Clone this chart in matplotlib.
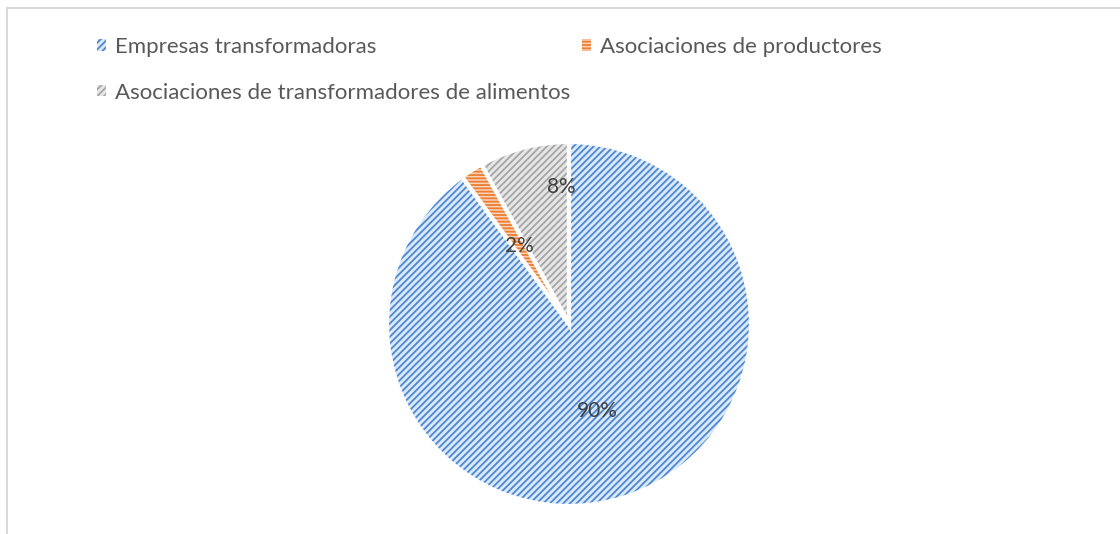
import numpy as np
import matplotlib
matplotlib.use("Agg")
import matplotlib.pyplot as plt
from matplotlib.patches import Patch, Rectangle

labels = ["Empresas transformadoras",
          "Asociaciones de productores",
          "Asociaciones de transformadores de alimentos"]
values = [90, 2, 8]
pct_labels = ["90%", "2%", "8%"]

line_colors = ["#4a88d4", "#ed7d31", "#a6a6a6"]
fill_colors = ["#dbe8f8", "#f9d3b8", "#e6e6e6"]
hatches = ["/////", "-----", "/////"]
# label placement inside each wedge: (fraction of the wedge's sweep, fraction of radius)
label_pos = [(0.5, 0.5), (0.5, 0.51), (0.11, 0.755)]

plt.rcParams["font.family"] = ["Lato", "DejaVu Sans"]
plt.rcParams["hatch.linewidth"] = 1.3

fig = plt.figure(figsize=(11.2, 5.34), dpi=100)

# chart frame (only top and left edges fall inside the image)
fig.patches.append(Rectangle((6.5 / 1120, -0.1), 1.2, 1.1 - 8.5 / 534,
                             transform=fig.transFigure, fill=False,
                             edgecolor="#d9d9d9", linewidth=1.5))

cx, cy, r = 569, 324, 182
ax = fig.add_axes([(cx - r) / 1120, (534 - cy - r) / 534, 2 * r / 1120, 2 * r / 534])

# hatched fill
wedges, _ = ax.pie(values, startangle=90, counterclock=False,
                   colors=fill_colors, radius=1,
                   wedgeprops=dict(linewidth=0))
for w, hc, h in zip(wedges, line_colors, hatches):
    w.set_hatch(h)
    w.set_edgecolor(hc)
# white separators
ax.pie(values, startangle=90, counterclock=False, radius=1,
       colors=["none"] * 3,
       wedgeprops=dict(linewidth=3, edgecolor="white", fill=False))

for w, txt, (fa, fr) in zip(wedges, pct_labels, label_pos):
    # counterclock=False: the sweep runs from theta2 down to theta1
    ang = np.deg2rad(w.theta1 + fa * (w.theta2 - w.theta1))
    ax.text(fr * np.cos(ang), fr * np.sin(ang), txt, ha="center", va="center",
            fontsize=15, color="#404040")

ax.set_xlim(-1, 1)
ax.set_ylim(-1, 1)
ax.set_aspect("equal")
ax.axis("off")

handles = [Patch(facecolor=fill_colors[i], edgecolor=line_colors[i],
                 hatch=hatches[i], linewidth=0) for i in (0, 2, 1)]
names = [labels[i] for i in (0, 2, 1)]
fig.legend(handles, names, ncol=2, loc="upper left",
           bbox_to_anchor=(77 / 1120, 1 - 17 / 534),
           frameon=False, fontsize=16, labelcolor="#595959",
           handlelength=0.4, handleheight=0.4, handletextpad=0.4,
           columnspacing=0.55, labelspacing=1.15)

fig.savefig("out.png", dpi=100, facecolor="white")
